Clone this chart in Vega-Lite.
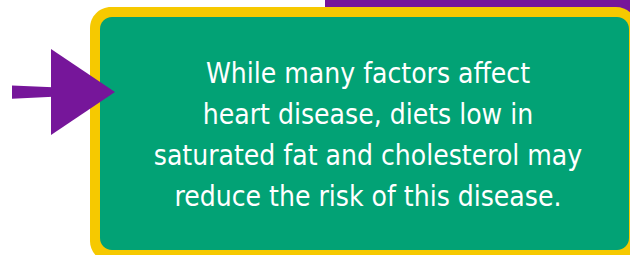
{
  "$schema": "https://vega.github.io/schema/vega-lite/v6.json",
  "width": 630,
  "height": 255,
  "padding": 0,
  "autosize": {"type": "none"},
  "background": "#ffffff",
  "config": {"view": {"stroke": null}},
  "datasets": {
    "boxes": [
      {"name": "bar", "x0": 325, "x1": 640, "y0": -5, "y1": 20},
      {"name": "border", "x0": 90, "x1": 637, "y0": 7, "y1": 262},
      {"name": "panel", "x0": 100, "x1": 629, "y0": 17, "y1": 250}
    ],
    "shaft": [
      {"x": 12, "top": 85.5, "bottom": 98.7},
      {"x": 53, "top": 87.3, "bottom": 96.8}
    ],
    "head": [
      {"x": 51, "top": 49, "bottom": 135},
      {"x": 115, "top": 92, "bottom": 92}
    ],
    "note": [
      {"text": "While many factors affect\nheart disease, diets low in\nsaturated fat and cholesterol may\nreduce the risk of this disease.", "cx": 368, "cy": 83}
    ]
  },
  "layer": [
    {
      "data": {"name": "boxes"},
      "transform": [{"filter": "datum.name == 'bar'"}],
      "mark": {"type": "rect", "color": "#76169a", "clip": true},
      "encoding": {
        "x": {"field": "x0", "type": "quantitative", "scale": {"domain": [0, 630], "nice": false, "zero": false}, "axis": null},
        "x2": {"field": "x1"},
        "y": {"field": "y0", "type": "quantitative", "scale": {"domain": [0, 255], "nice": false, "zero": false, "reverse": true}, "axis": null},
        "y2": {"field": "y1"}
      }
    },
    {
      "data": {"name": "boxes"},
      "transform": [{"filter": "datum.name == 'border'"}],
      "mark": {"type": "rect", "color": "#f6c900", "cornerRadius": 21, "clip": true},
      "encoding": {
        "x": {"field": "x0", "type": "quantitative"},
        "x2": {"field": "x1"},
        "y": {"field": "y0", "type": "quantitative"},
        "y2": {"field": "y1"}
      }
    },
    {
      "data": {"name": "boxes"},
      "transform": [{"filter": "datum.name == 'panel'"}],
      "mark": {"type": "rect", "color": "#02a275", "cornerRadius": 12, "clip": true},
      "encoding": {
        "x": {"field": "x0", "type": "quantitative"},
        "x2": {"field": "x1"},
        "y": {"field": "y0", "type": "quantitative"},
        "y2": {"field": "y1"}
      }
    },
    {
      "data": {"name": "shaft"},
      "mark": {"type": "area", "color": "#76169a", "opacity": 1},
      "encoding": {
        "x": {"field": "x", "type": "quantitative"},
        "y": {"field": "top", "type": "quantitative"},
        "y2": {"field": "bottom"}
      }
    },
    {
      "data": {"name": "head"},
      "mark": {"type": "area", "color": "#76169a", "opacity": 1},
      "encoding": {
        "x": {"field": "x", "type": "quantitative"},
        "y": {"field": "top", "type": "quantitative"},
        "y2": {"field": "bottom"}
      }
    },
    {
      "data": {"name": "note"},
      "mark": {"type": "text", "color": "#ffffff", "font": "DejaVu Sans Condensed", "fontSize": 28, "lineHeight": 41, "align": "center", "baseline": "alphabetic", "lineBreak": "\n"},
      "encoding": {
        "x": {"field": "cx", "type": "quantitative"},
        "y": {"field": "cy", "type": "quantitative"},
        "text": {"field": "text"}
      }
    }
  ]
}
